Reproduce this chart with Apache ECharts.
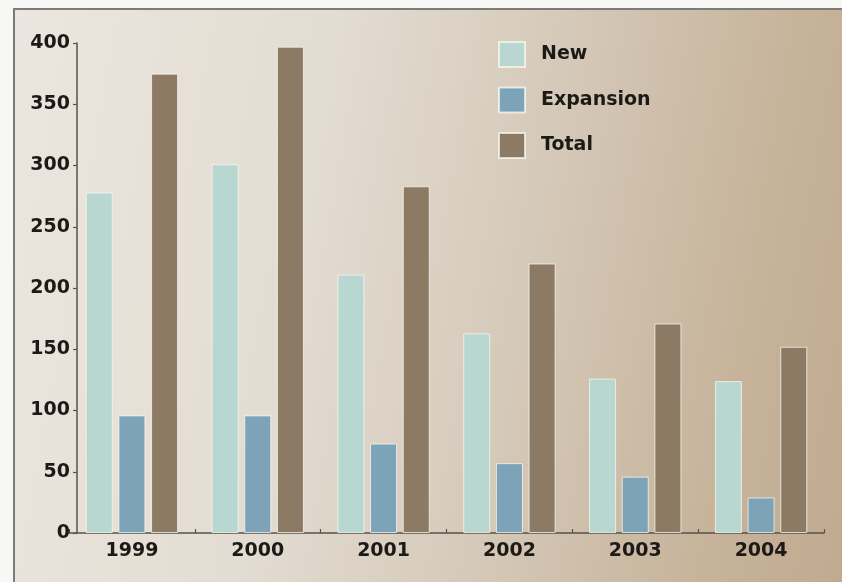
<!DOCTYPE html>
<html>
<head>
<meta charset="utf-8">
<script src="https://cdn.jsdelivr.net/npm/echarts@6/dist/echarts.min.js"></script>
<style>
  html, body { margin: 0; padding: 0; background: #f7f7f5; }
  #frame {
    position: absolute; left: 13px; top: 8px; width: 829px; height: 574px;
    box-sizing: border-box;
    border-left: 2px solid #7d7b78; border-top: 2px solid #7d7b78;
    background: linear-gradient(100deg, #ebe6df 0%, #e3dcd2 35%, #d5c9b9 60%, #c6b39a 85%, #c1ab90 100%);
  }
  #chart { position: absolute; left: 0; top: 0; width: 842px; height: 582px; }
</style>
</head>
<body>
<div id="frame"></div>
<div id="chart"></div>
<script>
const categories = ['1999', '2000', '2001', '2002', '2003', '2004'];
const newValues = [278, 301, 211, 163, 126, 124];
const expansionValues = [96, 96, 73, 57, 46, 29];
const totalValues = [375, 397, 283, 220, 171, 152];
const seriesNames = ['New', 'Expansion', 'Total'];

const FONT = 'DejaVu Sans';
const chart = echarts.init(document.getElementById('chart'), null, { renderer: 'canvas' });
const barStyle = (c) => ({ color: c, borderColor: 'rgba(250,248,240,0.75)', borderWidth: 1 });

chart.setOption({
  backgroundColor: 'transparent',
  animation: false,
  grid: { left: 69, right: 18, top: 43, bottom: 49, containLabel: false },
  legend: {
    orient: 'vertical',
    left: 498,
    top: 41,
    padding: 0,
    itemWidth: 26,
    itemHeight: 25,
    itemGap: 18.5,
    icon: 'rect',
    data: seriesNames,
    textStyle: { fontFamily: FONT, fontWeight: 'bold', fontSize: 19, color: '#1c1917', padding: [0, 0, 0, 11] }
  },
  xAxis: {
    type: 'category',
    data: categories,
    boundaryGap: true,
    axisLine: { show: true, lineStyle: { color: '#57524c', width: 1.5 } },
    axisTick: { show: true, inside: true, length: 4, lineStyle: { color: '#57524c', width: 1.2 } },
    axisLabel: { margin: 9, fontFamily: FONT, fontWeight: 'bold', fontSize: 19, color: '#1c1917' },
    splitLine: { show: false }
  },
  yAxis: {
    type: 'value',
    min: 0,
    max: 400,
    interval: 50,
    offset: -8,
    axisLine: { show: true, lineStyle: { color: '#57524c', width: 1.5 } },
    axisTick: { show: true, inside: false, length: 4, lineStyle: { color: '#57524c', width: 1.2 } },
    axisLabel: { margin: 7, fontFamily: FONT, fontWeight: 'bold', fontSize: 19, color: '#1c1917' },
    splitLine: { show: false }
  },
  series: [
    { name: seriesNames[0], type: 'bar', data: newValues, barWidth: 27, barGap: '21%', itemStyle: barStyle('#b8d7d1') },
    { name: seriesNames[1], type: 'bar', data: expansionValues, barWidth: 27, barGap: '21%', itemStyle: barStyle('#7da3b8') },
    { name: seriesNames[2], type: 'bar', data: totalValues, barWidth: 27, barGap: '21%', itemStyle: barStyle('#8c7a65') }
  ]
});
</script>
</body>
</html>
